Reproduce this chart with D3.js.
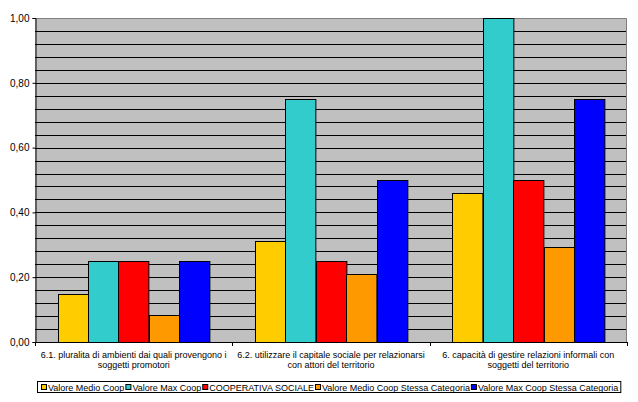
<!DOCTYPE html>
<html><head><meta charset="utf-8">
<script src="https://cdn.jsdelivr.net/npm/d3@7"></script>
<style>
body{margin:0;background:#fff;}
text{font-family:"Liberation Sans",Arial,sans-serif;fill:#000;}
</style></head>
<body><svg id="c" width="638" height="402"></svg>
<script>
const categories = [
  ["6.1. pluralita di ambienti dai quali provengono i", "soggetti promotori"],
  ["6.2. utilizzare il capitale sociale per relazionarsi", "con attori del territorio"],
  ["6. capacità di gestire relazioni informali con", "soggetti del territorio"]
];
const seriesNames = ["Valore Medio Coop", "Valore Max Coop", "COOPERATIVA SOCIALE", "Valore Medio Coop Stessa Categoria", "Valore Max Coop Stessa Categoria"];
const seriesColors = ["#FFCC00", "#33CCCC", "#FF0000", "#FF9900", "#0000FF"];
const valoreMedioCoop = [0.147, 0.312, 0.46];
const valoreMaxCoop = [0.25, 0.75, 1.00];
const cooperativaSociale = [0.25, 0.25, 0.50];
const valoreMedioStessa = [0.083, 0.209, 0.293];
const valoreMaxStessa = [0.25, 0.50, 0.75];
const yTicks = [0, 0.2, 0.4, 0.6, 0.8, 1.0];

const seriesValues = [valoreMedioCoop, valoreMaxCoop, cooperativaSociale, valoreMedioStessa, valoreMaxStessa];
const svg = d3.select("#c");
const L = 35, R = 627, T = 18, B = 342;
const catIdx = categories.map((d, i) => i);
const x0 = d3.scaleBand().domain(catIdx).range([L, R]).padding(0);
const x1 = d3.scaleBand().domain(seriesNames).range([0, x0.bandwidth()]).paddingInner(0).paddingOuter(0.75);
const y = d3.scaleLinear().domain([0, 1]).range([B, T]);

svg.append("rect").attr("x", L).attr("y", T).attr("width", R - L).attr("height", B - T).attr("fill", "#C0C0C0");
const grid = d3.range(1, 25).map(i => i * 0.04);
svg.append("g").selectAll("line").data(grid).join("line")
  .attr("x1", L).attr("x2", R)
  .attr("y1", d => Math.round(y(d)) + 0.5).attr("y2", d => Math.round(y(d)) + 0.5)
  .attr("stroke", "#000").attr("stroke-width", 1);
svg.append("path").attr("d", `M${L},${T + 0.5}H${R - 0.5}V${B}`).attr("fill", "none").attr("stroke", "#808080");

const data = [];
seriesNames.forEach((s, si) => categories.forEach((c, ci) => data.push({s, si, ci, v: seriesValues[si][ci]})));
svg.append("g").selectAll("rect").data(data).join("rect")
  .attr("x", d => Math.round(x0(d.ci) + x1(d.s)) + 0.5)
  .attr("y", d => Math.round(y(d.v)) + 0.5)
  .attr("width", x1.bandwidth())
  .attr("height", d => Math.round(B) - Math.round(y(d.v)))
  .attr("fill", d => seriesColors[d.si])
  .attr("stroke", "#000").attr("stroke-width", 1);

const yAxis = d3.axisLeft(y).tickValues(yTicks).tickSize(3).tickPadding(3)
  .tickFormat(d => d3.format(".2f")(d).replace(".", ","));
const gy = svg.append("g").attr("transform", `translate(${L + 0.5},0)`).call(yAxis);
gy.select(".domain").attr("stroke", "#000");
gy.selectAll(".tick line").attr("stroke", "#000");
gy.selectAll("text").style("font-size", "10px").style("font-family", "Liberation Sans, Arial, sans-serif");

svg.append("line").attr("x1", L).attr("x2", R).attr("y1", B + 0.5).attr("y2", B + 0.5).attr("stroke", "#000");
const bounds = [...catIdx.map(i => x0(i)), R];
svg.append("g").selectAll("line").data(bounds).join("line")
  .attr("x1", d => Math.round(d) + 0.5).attr("x2", d => Math.round(d) + 0.5)
  .attr("y1", B).attr("y2", B + 4).attr("stroke", "#000");
const xl = svg.append("g").selectAll("text").data(categories).join("text")
  .attr("text-anchor", "middle")
  .attr("x", (d, i) => x0(i) + x0.bandwidth() / 2)
  .attr("y", 358)
  .style("font-size", "9px");
xl.selectAll("tspan").data(d => d).join("tspan")
  .attr("x", function() { return this.parentNode.getAttribute("x"); })
  .attr("dy", (d, i) => i === 0 ? 0 : 10)
  .text(d => d);

const lg = svg.append("g");
const box = lg.append("rect").attr("x", 37.5).attr("y", 381.5).attr("height", 11).attr("fill", "#fff").attr("stroke", "#000");
let cx = 41;
seriesNames.forEach((s, i) => {
  lg.append("rect").attr("x", cx + 0.5).attr("y", 384.5).attr("width", 5).attr("height", 5)
    .attr("fill", seriesColors[i]).attr("stroke", "#000");
  const t = lg.append("text").attr("x", cx + 7).attr("y", 390.5).style("font-size", "9px").text(s);
  cx = cx + 7 + t.node().getComputedTextLength() + 1;
});
box.attr("width", cx - 37 + 1);
</script></body></html>
